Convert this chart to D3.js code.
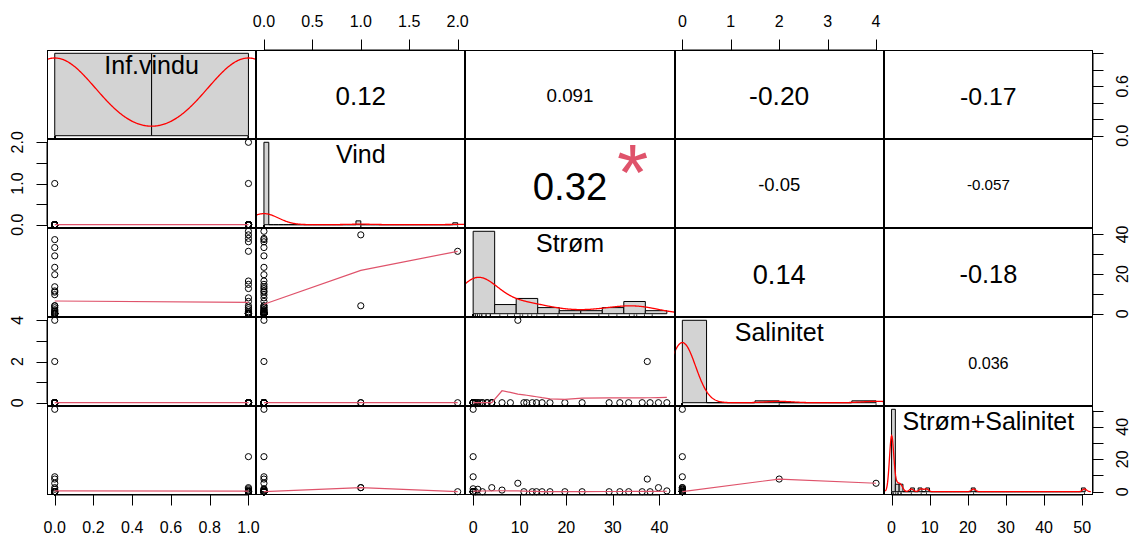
<!DOCTYPE html>
<html>
<head>
<meta charset="utf-8">
<script src="https://cdn.jsdelivr.net/npm/d3@7"></script>
<style>
  html, body { margin: 0; padding: 0; background: #ffffff; }
  svg { display: block; font-family: "Liberation Sans", Arial, Helvetica, sans-serif; }
</style>
</head>
<body>
<svg id="chart" width="1131" height="535"></svg>
<script>
// ---------------- data ----------------
const variables = ["Inf.vindu", "Vind", "Strøm", "Salinitet", "Strøm+Salinitet"];

// one entry per observation (46 observations); null = not measured
const infVindu = [
  0,0,0,0,0,0,0,0,0,0,0,0,0,0,0,0,0,0,0,0,0,0,0,
  1,1,1,1,1,1,1,1,1,1,1,1,1,1,1,1,1,1,1,1,1,1,1
];
const vind = [
  0,0,0,0,0,0,0,0,0,0,0,0,0,0,0,0,0,0,0,1,0,0,0,
  0,1,0,0,2,0,0,0,0,0,0,0,0,0,0,0,0,0,0,0,0,0,0
];
const strom = [
  37.4,33.4,29.2,23.4,19.7,13.6,11.5,10.9,9.6,0,0,0,0,0,0,0,0.5,1,1.5,4,2,3,4,
  41.6,39.8,38.0,36.3,31.5,16.5,14.8,12.7,8.0,6.2,0,0,0,0,0,0,0,0,0.5,1,2,3,4
];
const salinitet = [
  2,0,0,0,0,0,0,0,4,0,0,0,0,0,0,0,0,0,0,0,0,0,0,
  0,0,0,0,0,0,0,0,0,0,0,0,0,0,0,0,0,0,0,0,0,0,0
];
const stromSalinitet = [
  7.8,0,0,0,0,0,null,0,5.2,50.8,9.2,0,0,0,null,null,0,1.5,null,2.5,null,null,null,
  0.5,2.5,0,0,0,0,0,0,null,1.0,21.6,1.8,0,0,0,null,null,null,null,null,0,null,null
];

// correlation coefficients shown in the upper panels (row by row)
const correlationLabels = [
  ["0.12", "0.091", "-0.20", "-0.17"],
  ["0.32", "-0.05", "-0.057"],
  ["0.14", "-0.18"],
  ["0.036"]
];
const significanceStars = [
  ["", "", "", ""],
  ["*", "", ""],
  ["", ""],
  [""]
];

// histogram bin width for each diagonal panel
const histBinWidth = [0.5, 0.05, 5, 0.5, 1];

// axis ticks and labels per variable
const tickValues = [
  [0, 0.2, 0.4, 0.6, 0.8, 1.0],
  [0, 0.5, 1, 1.5, 2],
  [0, 10, 20, 30, 40],
  [0, 1, 2, 3, 4],
  [0, 10, 20, 30, 40, 50]
];
const tickLabels = [
  ["0.0", "0.2", "0.4", "0.6", "0.8", "1.0"],
  ["0.0", "0.5", "1.0", "1.5", "2.0"],
  ["0", "10", "20", "30", "40"],
  ["0", "1", "2", "3", "4"],
  ["0", "10", "20", "30", "40", "50"]
];
// labels that fit on the vertical axes (the rest are thinned out)
const verticalLabelValues = [
  [0, 0.6],
  [0, 1, 2],
  [0, 20, 40],
  [0, 2, 4],
  [0, 20, 40]
];

// ---------------- layout ----------------
const plotLeft = 47, plotRight = 1093, plotTop = 50, plotBottom = 495;
const nv = variables.length;
const colEdge = d3.scaleLinear().domain([0, nv]).range([plotLeft, plotRight]);
const rowEdge = d3.scaleLinear().domain([0, nv]).range([plotTop, plotBottom]);
const pw = colEdge(1) - colEdge(0);
const ph = rowEdge(1) - rowEdge(0);

const smoothColor = "#DF536B";
const densityColor = "#FF0000";
const histFill = "#D3D3D3";
const axisFont = 16;
const labelFont = 25;
const corTextScale = 0.935;

const svg = d3.select("#chart");
const defs = svg.append("defs");

const columns = [infVindu, vind, strom, salinitet, stromSalinitet];
const isNum = v => v !== null && v !== undefined && Number.isFinite(v);
const pad4 = ([a, b]) => { const d = (b - a) || 1; return [a - 0.04 * d, b + 0.04 * d]; };
const extents = columns.map(c => d3.extent(c.filter(isNum)));

const xScaleFor = (j, dom) => d3.scaleLinear().domain(pad4(dom)).range([colEdge(j), colEdge(j + 1)]);
const yScaleFor = (i, dom) => d3.scaleLinear().domain(pad4(dom)).range([rowEdge(i + 1), rowEdge(i)]);
const varX = d3.range(nv).map(j => xScaleFor(j, extents[j]));
const varY = d3.range(nv).map(i => yScaleFor(i, extents[i]));

// ---------------- statistics ----------------
// locally weighted scatterplot smoothing (port of the classic clowess routine)
function lowess(xIn, yIn, f = 2 / 3, nsteps = 3) {
  const order = d3.range(xIn.length).sort((a, b) => xIn[a] - xIn[b]);
  const x = order.map(k => xIn[k]), y = order.map(k => yIn[k]);
  const n = x.length;
  if (n < 2) return x.map((v, k) => [v, y[k]]);
  const delta = 0.01 * (x[n - 1] - x[0]);
  const range = x[n - 1] - x[0];
  const ys = new Array(n).fill(0), rw = new Array(n).fill(1);
  const res = new Array(n).fill(0), w = new Array(n).fill(0);
  const ns = Math.max(2, Math.min(n, Math.floor(f * n + 1e-7)));

  function lowest(xs, nleft, nright, userw) {
    const h = Math.max(xs - x[nleft], x[nright] - xs);
    const h9 = 0.999 * h, h1 = 0.001 * h;
    let a = 0, j = nleft;
    while (j < n) {
      w[j] = 0;
      const r = Math.abs(x[j] - xs);
      if (r <= h9) {
        w[j] = r <= h1 ? 1 : Math.pow(1 - Math.pow(r / h, 3), 3);
        if (userw) w[j] *= rw[j];
        a += w[j];
      } else if (x[j] > xs) break;
      j++;
    }
    const nrt = j - 1;
    if (a <= 0) return null;
    for (j = nleft; j <= nrt; j++) w[j] /= a;
    if (h > 0) {
      a = 0;
      for (j = nleft; j <= nrt; j++) a += w[j] * x[j];
      let b = xs - a, c = 0;
      for (j = nleft; j <= nrt; j++) c += w[j] * (x[j] - a) * (x[j] - a);
      if (Math.sqrt(c) > 0.001 * range) {
        b /= c;
        for (j = nleft; j <= nrt; j++) w[j] *= (b * (x[j] - a) + 1);
      }
    }
    let s = 0;
    for (j = nleft; j <= nrt; j++) s += w[j] * y[j];
    return s;
  }

  for (let iter = 1; iter <= nsteps + 1; iter++) {
    let nleft = 0, nright = ns - 1, last = -1, i = 0;
    for (;;) {
      if (nright < n - 1) {
        const d1 = x[i] - x[nleft], d2 = x[nright + 1] - x[i];
        if (d1 > d2) { nleft++; nright++; continue; }
      }
      const v = lowest(x[i], nleft, nright, iter > 1);
      ys[i] = v === null ? y[i] : v;
      if (last < i - 1) {
        const denom = x[i] - x[last];
        for (let j = last + 1; j < i; j++) {
          const alpha = (x[j] - x[last]) / denom;
          ys[j] = alpha * ys[i] + (1 - alpha) * ys[last];
        }
      }
      last = i;
      const cut = x[last] + delta;
      for (i = last + 1; i < n; i++) {
        if (x[i] > cut) break;
        if (x[i] === x[last]) { ys[i] = ys[last]; last = i; }
      }
      i = Math.max(last + 1, i - 1);
      if (last >= n - 1) break;
    }
    for (let k = 0; k < n; k++) res[k] = y[k] - ys[k];
    const sc = d3.sum(res, Math.abs) / n;
    if (iter > nsteps) break;
    const ar = res.map(Math.abs).sort((a, b) => a - b);
    const m1 = Math.floor(n / 2);
    const cmad = n % 2 === 0 ? 3 * (ar[m1] + ar[n - m1 - 1]) : 6 * ar[m1];
    if (cmad < 1e-7 * sc) break;
    const c9 = 0.999 * cmad, c1 = 0.001 * cmad;
    for (let k = 0; k < n; k++) {
      const r = Math.abs(res[k]);
      rw[k] = r <= c1 ? 1 : (r <= c9 ? Math.pow(1 - (r / cmad) ** 2, 2) : 0);
    }
  }
  return x.map((v, k) => [v, ys[k]]);
}

// right-closed histogram bins, scaled as a probability density
function histogram(values, width) {
  const lo = Math.floor(d3.min(values) / width + 1e-7) * width;
  const hi = Math.ceil(d3.max(values) / width - 1e-7) * width;
  const nb = Math.max(1, Math.round((hi - lo) / width));
  const counts = new Array(nb).fill(0);
  values.forEach(v => {
    let k = Math.ceil((v - lo) / width - 1e-7) - 1;
    k = Math.max(0, Math.min(nb - 1, k));
    counts[k]++;
  });
  return counts.map((c, k) => ({ x0: lo + k * width, x1: lo + (k + 1) * width,
                                 density: c / (values.length * width) }));
}

// gaussian kernel density with the rule-of-thumb bandwidth
function kde(values) {
  const n = values.length;
  const sorted = values.slice().sort(d3.ascending);
  const hi = d3.deviation(values);
  const iqr = d3.quantileSorted(sorted, 0.75) - d3.quantileSorted(sorted, 0.25);
  let lo = Math.min(hi, iqr / 1.34);
  if (!(lo > 0)) lo = hi || Math.abs(values[0]) || 1;
  const bw = 0.9 * lo * Math.pow(n, -0.2);
  const from = sorted[0] - 3 * bw, to = sorted[n - 1] + 3 * bw;
  const norm = n * bw * Math.sqrt(2 * Math.PI);
  return d3.range(512).map(k => {
    const g = from + (to - from) * k / 511;
    return [g, d3.sum(values, v => Math.exp(-0.5 * ((g - v) / bw) ** 2)) / norm];
  });
}

// text width in em for the correlation font sizing
const measureCtx = document.createElement("canvas").getContext("2d");
measureCtx.font = '100px "Liberation Sans", Arial, sans-serif';
const widthEm = t => measureCtx.measureText(t).width / 100;

// ---------------- panels ----------------
function clipFor(i, j) {
  const id = `clip-${i}-${j}`;
  defs.append("clipPath").attr("id", id).append("rect")
    .attr("x", colEdge(j)).attr("y", rowEdge(i)).attr("width", pw).attr("height", ph);
  return `url(#${id})`;
}

const lineGen = (sx, sy) => d3.line().x(d => sx(d[0])).y(d => sy(d[1]));

for (let i = 0; i < nv; i++) {
  for (let j = 0; j < nv; j++) {
    const g = svg.append("g");
    const x0 = colEdge(j), y0 = rowEdge(i);

    if (i === j) {
      // diagonal: histogram, density and rug
      const vals = columns[i].filter(isNum);
      const bins = histogram(vals, histBinWidth[i]);
      const hx = d3.scaleLinear().domain(pad4([bins[0].x0, bins[bins.length - 1].x1]))
        .range([x0, x0 + pw]);
      const hy = d3.scaleLinear().domain(pad4([0, d3.max(bins, b => b.density)]))
        .range([y0 + ph, y0]);
      const clip = clipFor(i, j);
      const hg = g.append("g").attr("clip-path", clip);
      hg.selectAll("path.bar").data(bins).join("path")
        .attr("class", "bar")
        .attr("d", b => `M${hx(b.x0)},${hy(0)}V${hy(b.density)}H${hx(b.x1)}V${hy(0)}Z`)
        .attr("fill", histFill).attr("stroke", "#000").attr("stroke-width", 1);
      hg.append("path").datum(kde(vals))
        .attr("d", lineGen(hx, hy))
        .attr("fill", "none").attr("stroke", densityColor).attr("stroke-width", 1.3);
      hg.selectAll("line.rug").data(vals).join("line")
        .attr("class", "rug")
        .attr("x1", v => hx(v)).attr("x2", v => hx(v))
        .attr("y1", y0 + ph).attr("y2", y0 + ph - 0.03 * ph)
        .attr("stroke", "#000").attr("stroke-width", 0.8);
      const unit = d3.scaleLinear().domain([0, 1]).range([y0 + ph, y0]);
      g.append("text")
        .attr("x", x0 + pw / 2).attr("y", unit(5 / 6))
        .attr("text-anchor", "middle").attr("dominant-baseline", "central")
        .attr("font-size", labelFont).attr("fill", "#000")
        .text(variables[i]);
    } else if (i > j) {
      // lower: scatter with lowess smooth
      const pts = columns[j].map((v, k) => [v, columns[i][k]])
        .filter(p => isNum(p[0]) && isNum(p[1]));
      const sx = varX[j], sy = varY[i];
      g.selectAll("circle").data(pts).join("circle")
        .attr("cx", p => sx(p[0])).attr("cy", p => sy(p[1])).attr("r", 3.1)
        .attr("fill", "none").attr("stroke", "#000").attr("stroke-width", 1);
      const fit = lowess(pts.map(p => p[0]), pts.map(p => p[1]));
      g.append("path").datum(fit)
        .attr("clip-path", clipFor(i, j))
        .attr("d", lineGen(sx, sy))
        .attr("fill", "none").attr("stroke", smoothColor).attr("stroke-width", 1.2);
    } else {
      // upper: correlation coefficient, sized by its magnitude
      const label = correlationLabels[i][j - i - 1];
      const star = significanceStars[i][j - i - 1];
      const r = Math.abs(+label);
      const ux = d3.scaleLinear().domain([0, 1]).range([x0, x0 + pw]);
      const uy = d3.scaleLinear().domain([0, 1]).range([y0 + ph, y0]);
      const baseSize = 0.8 * pw / widthEm(label) * corTextScale;
      g.append("text")
        .attr("x", ux(0.5)).attr("y", uy(0.5)).attr("dy", "0.07em")
        .attr("text-anchor", "middle").attr("dominant-baseline", "central")
        .attr("font-size", baseSize * (r + 0.3) / 1.3).attr("fill", "#000")
        .text(label);
      if (star) {
        g.append("text")
          .attr("x", ux(0.8)).attr("y", uy(0.8)).attr("dy", "0.54em")
          .attr("text-anchor", "middle")
          .attr("font-size", baseSize).attr("fill", smoothColor)
          .text(star);
      }
    }

    // panel frame
    const rx = Math.round(x0) + 0.5, ry = Math.round(y0) + 0.5;
    svg.append("rect")
      .attr("x", rx).attr("y", ry)
      .attr("width", Math.round(x0 + pw) - Math.round(x0) - 1)
      .attr("height", Math.round(y0 + ph) - Math.round(y0) - 1)
      .attr("fill", "none").attr("stroke", "#000").attr("stroke-width", 1);
  }
}

// ---------------- axes ----------------
const tickLen = 10.5;
const labelFor = (k, v) => tickLabels[k][tickValues[k].indexOf(v)];

function horizontalAxis(k, top) {
  const s = varX[k];
  const y = top ? plotTop : plotBottom;
  const dir = top ? -1 : 1;
  const g = svg.append("g");
  g.append("line").attr("x1", s(tickValues[k][0])).attr("x2", s(d3.max(tickValues[k])))
    .attr("y1", y).attr("y2", y).attr("stroke", "#000");
  g.selectAll("line.tick").data(tickValues[k]).join("line").attr("class", "tick")
    .attr("x1", v => Math.round(s(v)) + 0.5).attr("x2", v => Math.round(s(v)) + 0.5)
    .attr("y1", y).attr("y2", y + dir * tickLen).attr("stroke", "#000");
  g.selectAll("text").data(tickValues[k]).join("text")
    .attr("x", v => s(v)).attr("y", top ? plotTop - 29 : plotBottom + 32)
    .attr("text-anchor", "middle").attr("dominant-baseline", "central")
    .attr("font-size", axisFont).attr("fill", "#000")
    .text(v => labelFor(k, v));
}

function verticalAxis(k, left) {
  const s = varY[k];
  const x = left ? plotLeft : plotRight;
  const dir = left ? -1 : 1;
  const g = svg.append("g");
  g.append("line").attr("y1", s(tickValues[k][0])).attr("y2", s(d3.max(tickValues[k])))
    .attr("x1", x).attr("x2", x).attr("stroke", "#000");
  g.selectAll("line.tick").data(tickValues[k]).join("line").attr("class", "tick")
    .attr("y1", v => Math.round(s(v)) + 0.5).attr("y2", v => Math.round(s(v)) + 0.5)
    .attr("x1", x).attr("x2", x + dir * tickLen).attr("stroke", "#000");
  const lx = left ? plotLeft - 29.5 : plotRight + 29.5;
  g.selectAll("text").data(verticalLabelValues[k]).join("text")
    .attr("transform", v => `translate(${lx},${s(v)}) rotate(-90)`)
    .attr("text-anchor", "middle").attr("dominant-baseline", "central")
    .attr("font-size", axisFont).attr("fill", "#000")
    .text(v => labelFor(k, v));
}

for (let k = 0; k < nv; k++) {
  horizontalAxis(k, k % 2 === 1);     // even columns on top, odd on bottom
  verticalAxis(k, k % 2 === 1);       // even rows on the left, odd on the right
}
</script>
</body>
</html>
